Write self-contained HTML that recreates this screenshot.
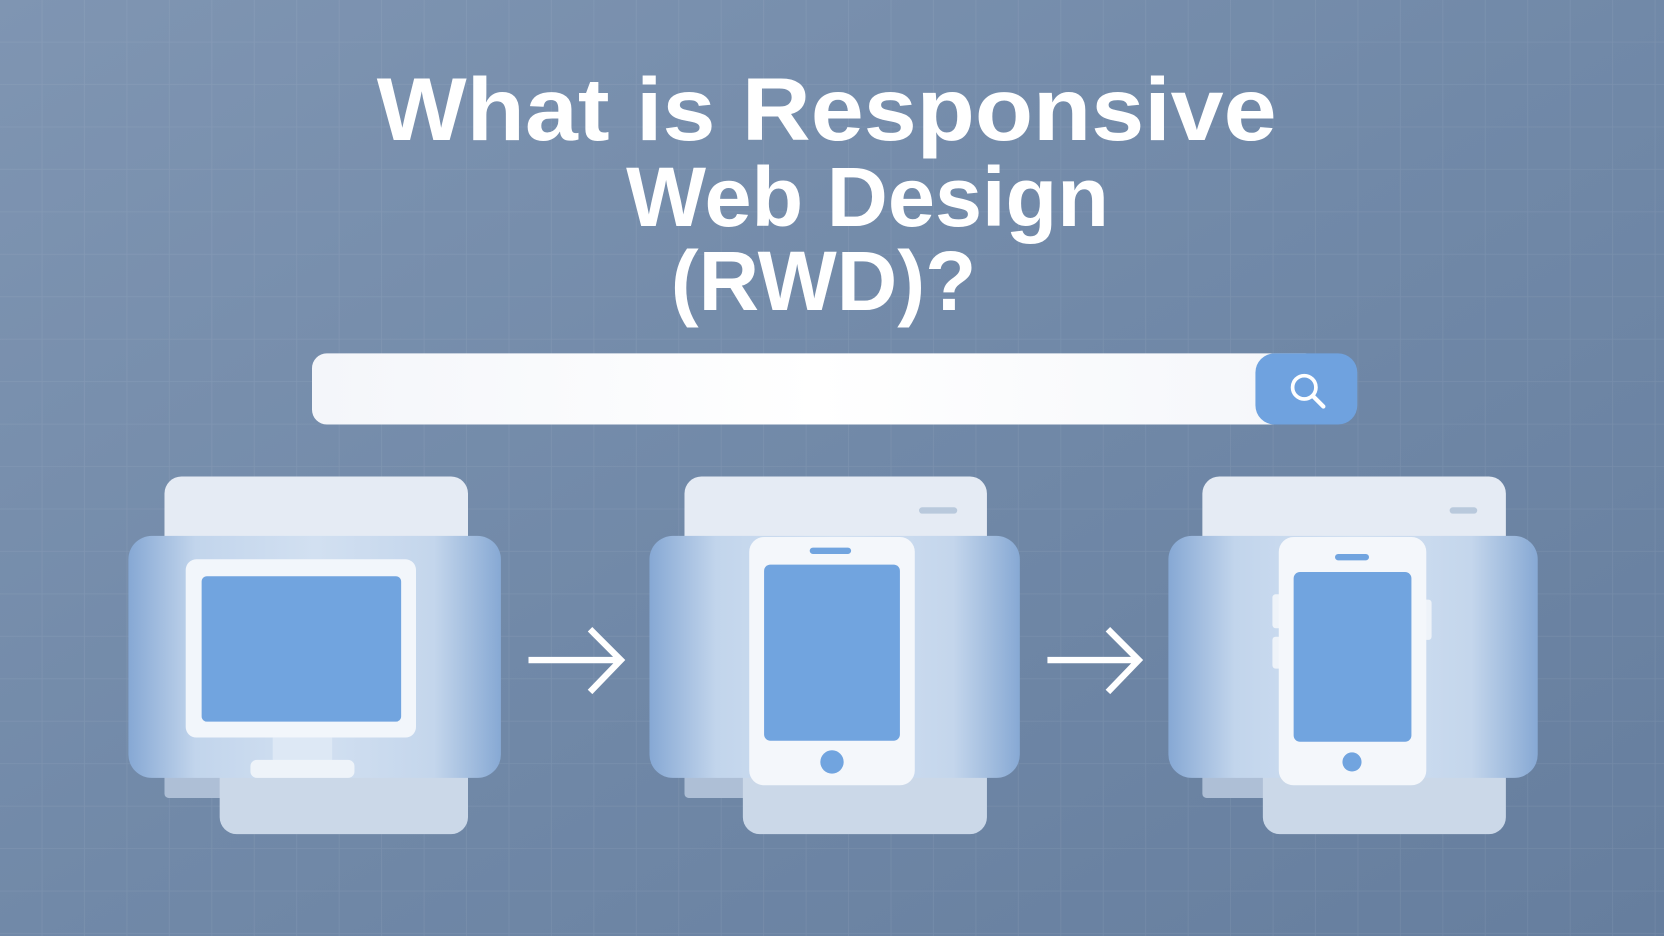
<!DOCTYPE html>
<html><head><meta charset="utf-8"><style>
html,body{margin:0;padding:0;width:1664px;height:936px;overflow:hidden;background:#7189a8}
svg{display:block}
</style></head><body>
<svg width="1664" height="936" viewBox="0 0 1568 882" preserveAspectRatio="none" xmlns="http://www.w3.org/2000/svg">
<defs>
<linearGradient id="bg" x1="0" y1="0" x2="1" y2="1">
<stop offset="0" stop-color="#7f95b2"/><stop offset="0.5" stop-color="#7189a8"/><stop offset="1" stop-color="#667e9e"/>
</linearGradient>
<pattern id="grid" width="40" height="40" patternUnits="userSpaceOnUse">
<path d="M40 0V40M0 40H40" stroke="#ffffff" stroke-opacity="0.07" stroke-width="1.5" fill="none"/>
</pattern>
<linearGradient id="panel" x1="0" y1="0" x2="1" y2="0">
<stop offset="0" stop-color="#86a8d4"/><stop offset="0.18" stop-color="#c2d5ec"/><stop offset="0.5" stop-color="#d2e0f1"/><stop offset="0.82" stop-color="#c4d6ec"/><stop offset="1" stop-color="#87a9d4"/>
</linearGradient>
<linearGradient id="bar" x1="0" y1="0" x2="1" y2="0">
<stop offset="0" stop-color="#f4f6fa"/><stop offset="0.5" stop-color="#ffffff"/><stop offset="1" stop-color="#f4f6fa"/>
</linearGradient>
</defs>
<rect width="1568" height="882" fill="url(#bg)"/>
<rect width="1568" height="882" fill="url(#grid)"/>

<g fill="#ffffff" font-family="Liberation Sans, sans-serif" font-weight="bold">
<text x="355" y="132" font-size="84" textLength="848" lengthAdjust="spacingAndGlyphs">What is Responsive</text>
<text x="590" y="213" font-size="80" textLength="455" lengthAdjust="spacingAndGlyphs">Web Design</text>
<text x="632" y="292" font-size="80" textLength="288" lengthAdjust="spacingAndGlyphs">(RWD)?</text>
</g>

<!-- search bar -->
<rect x="294" y="333" width="950" height="67" rx="14" fill="url(#bar)"/>
<rect x="1183" y="333" width="96" height="67" rx="18" fill="#6fa2df"/>
<circle cx="1229" cy="365" r="11" fill="none" stroke="#fff" stroke-width="3.5"/>
<line x1="1237" y1="373" x2="1247" y2="383" stroke="#fff" stroke-width="4" stroke-linecap="round"/>

<!-- group 1 -->
<g>
<rect x="155" y="449" width="286" height="120" rx="16" fill="#e5ebf4"/>
<rect x="155" y="700" width="120" height="52" rx="4" fill="#aebfd6"/>
<rect x="207" y="690" width="234" height="96" rx="16" fill="#cbd8e8"/>
<rect x="121" y="505" width="351" height="228" rx="22" fill="url(#panel)"/>
<rect x="175" y="527" width="217" height="168" rx="10" fill="#f2f6fb"/>
<rect x="190" y="543" width="188" height="137" rx="5" fill="#71a4df"/>
<rect x="257" y="695" width="56" height="22" fill="#dde8f5"/>
<rect x="236" y="716" width="98" height="17" rx="6" fill="#eef3f9"/>
</g>

<!-- arrows -->
<g stroke="#fff" stroke-width="6" fill="none" stroke-linecap="butt">
<path d="M498 622H584M556 593L585 622L556 652"/>
<path d="M987 622H1072M1044 593L1073 622L1044 652"/>
</g>

<!-- group 2 -->
<g>
<rect x="645" y="449" width="285" height="120" rx="16" fill="#e5ebf4"/>
<rect x="866" y="478" width="36" height="6" rx="3" fill="#b9c9dc"/>
<rect x="645" y="700" width="120" height="52" rx="4" fill="#aebfd6"/>
<rect x="700" y="690" width="230" height="96" rx="16" fill="#cbd8e8"/>
<rect x="612" y="505" width="349" height="228" rx="22" fill="url(#panel)"/>
<rect x="706" y="506" width="156" height="234" rx="14" fill="#f4f7fb"/>
<rect x="720" y="532" width="128" height="166" rx="6" fill="#71a4df"/>
<rect x="763" y="516" width="39" height="6" rx="3" fill="#71a4df"/>
<circle cx="784" cy="718" r="11" fill="#71a4df"/>
</g>

<!-- group 3 -->
<g>
<rect x="1133" y="449" width="286" height="120" rx="16" fill="#e5ebf4"/>
<rect x="1366" y="478" width="26" height="6" rx="3" fill="#b9c9dc"/>
<rect x="1133" y="700" width="120" height="52" rx="4" fill="#aebfd6"/>
<rect x="1190" y="690" width="229" height="96" rx="16" fill="#cbd8e8"/>
<rect x="1101" y="505" width="348" height="228" rx="22" fill="url(#panel)"/>
<rect x="1199" y="560" width="10" height="32" rx="3" fill="#eef3f9"/>
<rect x="1199" y="600" width="10" height="30" rx="3" fill="#eef3f9"/>
<rect x="1340" y="565" width="9" height="38" rx="3" fill="#eef3f9"/>
<rect x="1205" y="506" width="139" height="234" rx="14" fill="#f4f7fb"/>
<rect x="1219" y="539" width="111" height="160" rx="6" fill="#71a4df"/>
<rect x="1258" y="522" width="32" height="6" rx="3" fill="#71a4df"/>
<circle cx="1274" cy="718" r="9" fill="#71a4df"/>
</g>
</svg>
</body></html>
